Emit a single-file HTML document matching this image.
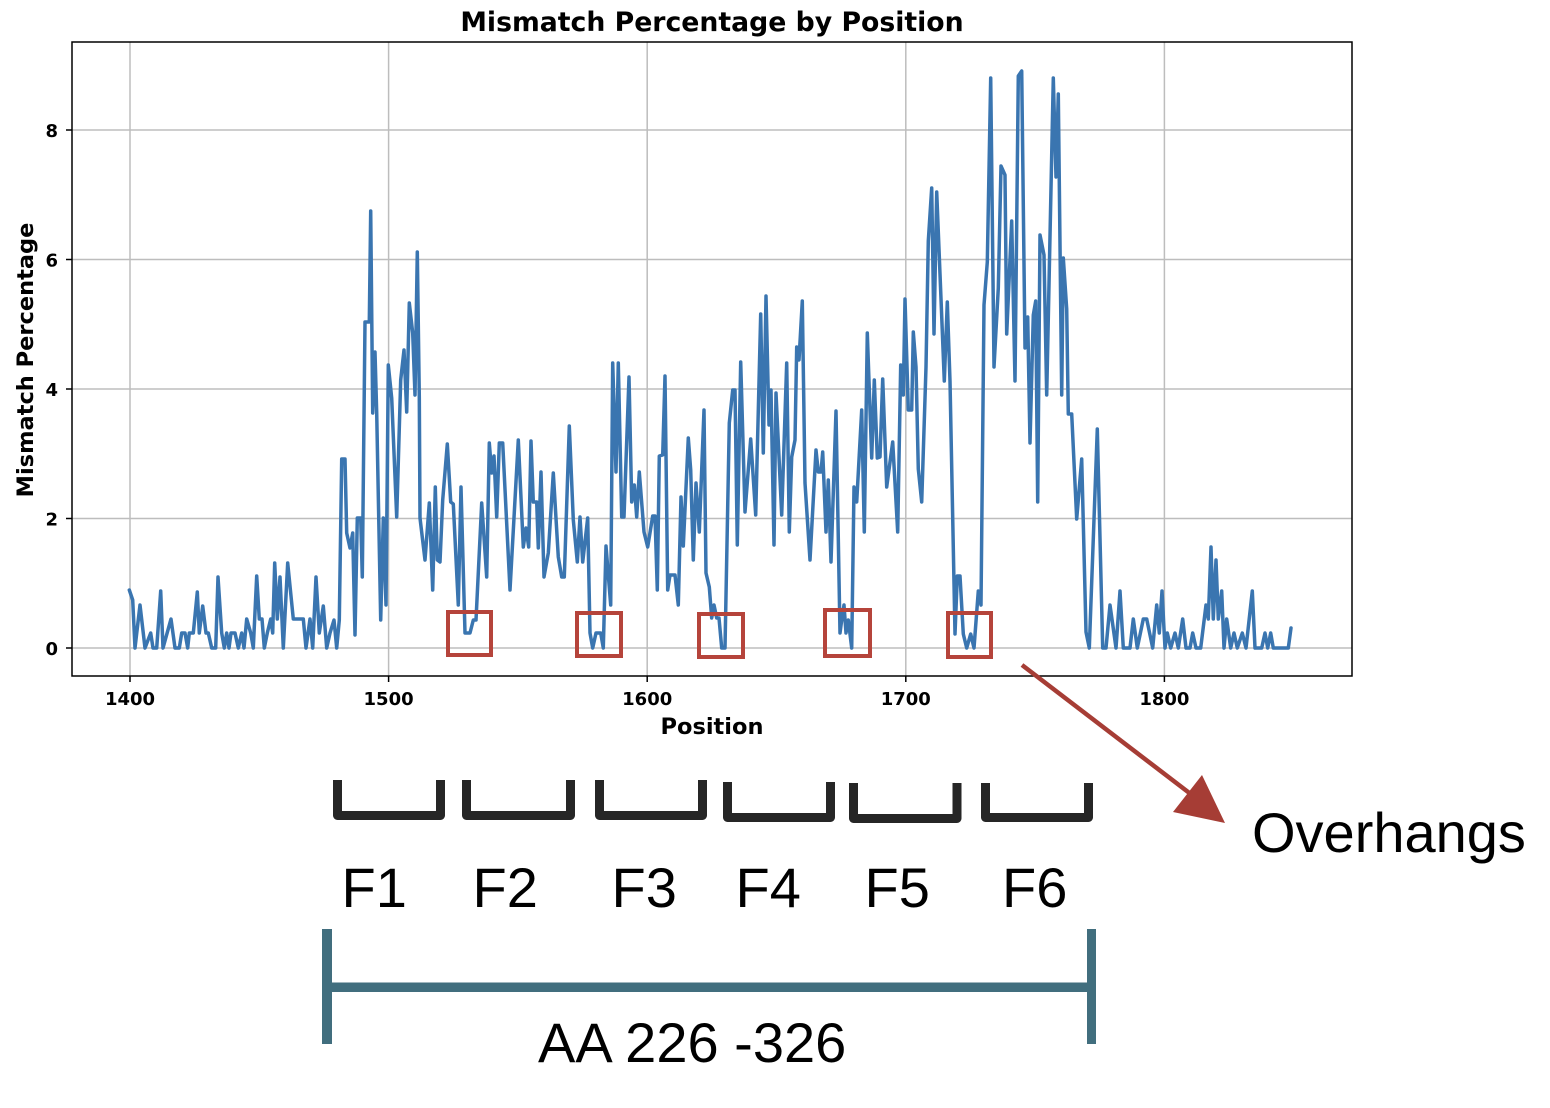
<!DOCTYPE html>
<html>
<head>
<meta charset="utf-8">
<style>
html,body{margin:0;padding:0;background:#fff;}
svg{display:block;}
</style>
</head>
<body>
<svg width="1550" height="1108" viewBox="0 0 1550 1108" xmlns="http://www.w3.org/2000/svg">
<rect width="1550" height="1108" fill="#fff"/>
<defs>
<clipPath id="ax"><rect x="72" y="42" width="1280" height="634"/></clipPath>
</defs>
<!-- grid -->
<g stroke="#bdbdbd" stroke-width="1.5">
<line x1="130" y1="42" x2="130" y2="676"/>
<line x1="388.6" y1="42" x2="388.6" y2="676"/>
<line x1="647.2" y1="42" x2="647.2" y2="676"/>
<line x1="905.8" y1="42" x2="905.8" y2="676"/>
<line x1="1164.4" y1="42" x2="1164.4" y2="676"/>
<line x1="72" y1="648" x2="1352" y2="648"/>
<line x1="72" y1="518.5" x2="1352" y2="518.5"/>
<line x1="72" y1="389" x2="1352" y2="389"/>
<line x1="72" y1="259.5" x2="1352" y2="259.5"/>
<line x1="72" y1="130" x2="1352" y2="130"/>
</g>
<!-- data -->
<polyline clip-path="url(#ax)" fill="none" stroke="#3a75b0" stroke-width="3.5" stroke-linejoin="round" stroke-linecap="round" points="
129.3,590 132.7,600 135,648 140,605 145,648 150.7,633 153,648 156.7,648 160.7,591 163,648 171,619 175,648 179.3,648 181.7,633 185,633 187.7,648 189.3,633 193.3,633 197.3,592 199.3,633 202.7,606 206,633 208.3,633 211.7,648 215.7,648 218,577 221.7,633 224.3,648 226.7,633 229,648 231,633 235,633 238.3,648 241.7,633 244,648 246.7,619 250.7,633 253.3,648 256.7,576 259.3,619 262,619 264.3,648 267.3,633 270.7,619 272.7,633 274.7,563 277.3,619 280,577 283.3,648 287.7,563 290.7,593 293.3,619 296.7,619 303.3,619 306,648 310,619 312.7,648 316,577 319.3,633 323.3,606 326.7,648 330,633
334,620 336.7,648 339.3,620 341.7,459 345,459 346.7,533 350,548 352.7,533 355,635 357.3,518 360.7,518 362.3,577 365,322 369.3,322 370.7,211 372.7,413 375,352 376.7,413 380.7,620 383.3,518 386,605 388.3,365 391.7,398 396.7,517 400.7,380 404,350 406.7,412 409.3,303 412.7,333 415,395 417.3,252 419.3,397 420,518 425,560 429.3,503 432.7,590 435.3,487 437.3,560 440,562 442.7,500 447.3,444 450.7,502 453.3,504 458.3,605 461,487 465,633 470,633 473.3,620 476,620 481.7,503 486.7,577 489.3,443 491.7,473 494,456 496.7,517 499.3,443 502.7,443 510,590 518.3,440 523.3,547 526,528 528.7,547 531,441
533.3,502 536.7,502 538.3,548 541,472 544,577 548.3,553 553.3,473 558.3,557 561.7,577 564.3,577 569.3,426 573.3,520 577.3,562 580,517 582.7,562 587.7,518 590,633 592.7,648 596,633 600.7,633 603.3,648 606,546 610.7,605 612.7,363 616,472 618.3,363 621.7,517 624,517 629,377 631.7,502 634.3,485 636.7,517 639.3,472 644,532 647.7,547 652.7,516 655,516 657.3,590 659.3,456 662.7,455 665,376 667.7,590 670,575 675,575 678.3,605 681,497 683.3,546 688.3,438 690.7,470 693.3,560 696,483 699.3,532 704,410 706,573 709.3,587 711.7,618 714,605 716.7,618 719,618 721.7,648 725,648
729.3,423 732.7,390 735,390 737.3,545 740.7,362 745,512 750.7,439 755.7,515 760.7,314 763.3,453 766,296 769,425 771,390 774,545 776,393 781.7,515 786.7,363 789.3,532 791.7,457 795,440 796.7,347 799,360 802.3,301 805,483 810,560 816,450 818.3,472 821,472 822.7,452 826,532 828.3,480 831,562 836,411 840,633 841.7,620 844,605 846,633 848.3,620 851.7,648 854,487 856.7,502 861.7,410 864.3,532 867.3,333 871.7,458 874.3,380 877.3,458 880,457 882.7,379 886.7,487 892.7,442 897.7,532 900.7,365
903.3,395 905,299 908.3,410 911.7,410 913.3,332 916,367 918.3,469 921.7,502 926,367 928.3,241 931.7,188 934,334 936.7,192 940,274 944.3,381 947.3,302 950,381 955,634 957.3,576 960,576 963.3,634 966.7,648 970.7,634 974,648 978.3,591 981,605 984,305 987.3,262 990.7,78 994,367 998.3,288 1001,166 1005,175 1006.7,334 1011.7,221 1015,381 1018.3,76 1021.7,71 1025,348 1027.7,317 1030,443 1033.3,315 1035.7,301 1037.7,502 1040,235 1044,255 1046.7,395 1053.3,78 1056,177 1058.3,94 1061.7,395 1063.3,258 1066.7,309 1068.3,414 1071.7,414 1076.7,519 1081.7,459 1086,632 1089.3,648 1097.3,429
1102.7,648 1106,648 1110,605 1116,648 1120,591 1123.3,648 1130,648 1133.3,619 1137.3,648 1143.3,619 1146.7,619 1152.7,648 1156.7,605 1159.3,633 1162,591 1165,648 1167.3,633 1170.7,648 1175,633 1178.3,648 1182.7,619 1186,648 1190,648 1192.7,633 1196,648 1200.7,648 1206,605 1208.3,619 1211,547 1213.3,619 1216,560 1218.3,619 1221.7,591 1224,648 1226.7,619 1230.7,648 1234,633 1237.3,648 1242.3,633 1246,648 1252.3,591 1255,648 1261.7,648 1265,633 1267.7,648 1270.7,633 1273.3,648 1288.3,648 1291,628"/>
<!-- red boxes -->
<g fill="none" stroke="#b5443b" stroke-width="4">
<rect x="448" y="612" width="43" height="43"/>
<rect x="577" y="613" width="44" height="43"/>
<rect x="699" y="614" width="44" height="43"/>
<rect x="825" y="610" width="45" height="46"/>
<rect x="948" y="613" width="43" height="44"/>
</g>
<!-- spines -->
<rect x="72" y="42" width="1280" height="634" fill="none" stroke="#000" stroke-width="1.5"/>
<!-- ticks -->
<g stroke="#000" stroke-width="1.5">
<line x1="130" y1="676" x2="130" y2="682"/>
<line x1="388.6" y1="676" x2="388.6" y2="682"/>
<line x1="647.2" y1="676" x2="647.2" y2="682"/>
<line x1="905.8" y1="676" x2="905.8" y2="682"/>
<line x1="1164.4" y1="676" x2="1164.4" y2="682"/>
<line x1="66" y1="648" x2="72" y2="648"/>
<line x1="66" y1="518.5" x2="72" y2="518.5"/>
<line x1="66" y1="389" x2="72" y2="389"/>
<line x1="66" y1="259.5" x2="72" y2="259.5"/>
<line x1="66" y1="130" x2="72" y2="130"/>
</g>
<g font-family="'DejaVu Sans', 'Liberation Sans', sans-serif" font-weight="bold" font-size="18" fill="#000">
<text x="130" y="705" text-anchor="middle">1400</text>
<text x="388.6" y="705" text-anchor="middle">1500</text>
<text x="647.2" y="705" text-anchor="middle">1600</text>
<text x="905.8" y="705" text-anchor="middle">1700</text>
<text x="1164.4" y="705" text-anchor="middle">1800</text>
<text x="58" y="655" text-anchor="end">0</text>
<text x="58" y="525.5" text-anchor="end">2</text>
<text x="58" y="396" text-anchor="end">4</text>
<text x="58" y="266.5" text-anchor="end">6</text>
<text x="58" y="137" text-anchor="end">8</text>
</g>
<g font-family="'DejaVu Sans', 'Liberation Sans', sans-serif" font-weight="bold" fill="#000">
<text x="712" y="31" text-anchor="middle" font-size="26.7">Mismatch Percentage by Position</text>
<text x="712" y="734" text-anchor="middle" font-size="22.5">Position</text>
<text transform="translate(33,360) rotate(-90)" text-anchor="middle" font-size="22.5">Mismatch Percentage</text>
</g>
<!-- arrow -->
<line x1="1022" y1="665" x2="1192" y2="795" stroke="#a63d35" stroke-width="4.5"/>
<polygon points="1225,823 1202,775 1173,812" fill="#a63d35"/>
<!-- brackets -->
<g fill="none" stroke="#262626" stroke-width="9" stroke-linejoin="round">
<path d="M337.5,780 V815.5 H440.5 V780"/>
<path d="M466.5,780 V815.5 H570.5 V780"/>
<path d="M599.5,780 V815.5 H702.5 V780"/>
<path d="M727.5,782 V817.5 H830.5 V782"/>
<path d="M853.5,783 V818.5 H957 V783"/>
<path d="M985.5,783 V817.5 H1088.5 V783"/>
</g>
<g font-family="'Liberation Sans', Arial, sans-serif" font-size="56" fill="#000">
<text x="341.5" y="907">F1</text>
<text x="472.5" y="907">F2</text>
<text x="611.5" y="907">F3</text>
<text x="735.5" y="907">F4</text>
<text x="864.5" y="907">F5</text>
<text x="1002" y="907">F6</text>
<text x="538" y="1062">AA 226 -326</text>
<text x="1252" y="852">Overhangs</text>
</g>
<!-- teal range bar -->
<g fill="#416e7e">
<rect x="322" y="929" width="10" height="115"/>
<rect x="1087" y="929" width="9" height="115"/>
<rect x="327" y="982.5" width="765" height="9.5"/>
</g>
</svg>
</body>
</html>
